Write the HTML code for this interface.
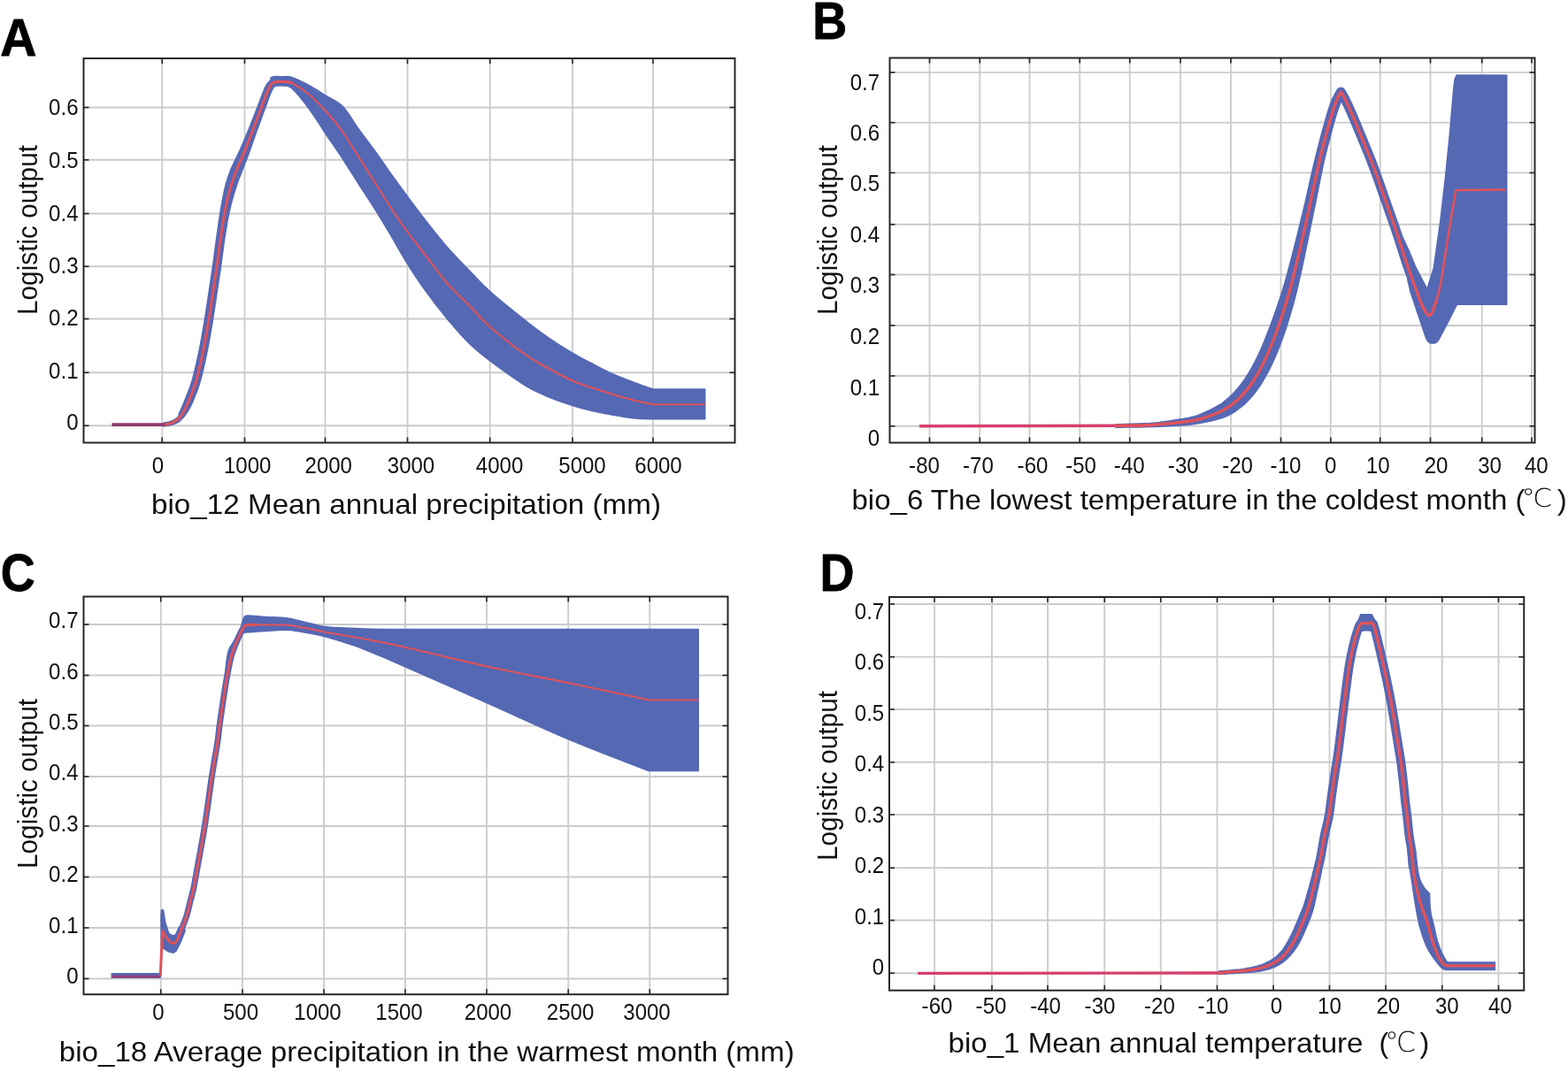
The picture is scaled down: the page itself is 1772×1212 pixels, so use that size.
<!DOCTYPE html>
<html lang="en">
<head>
<meta charset="utf-8">
<title>Response curves</title>
<style>
html,body{margin:0;padding:0;background:#fff;}
body{width:1772px;height:1212px;overflow:hidden;}
svg{display:block;}
text{font-family:"Liberation Sans","Noto Sans CJK SC",sans-serif;fill:#111;}
.tk{font-size:26px;}
.ttl{font-size:32px;}
.let{font-weight:bold;fill:#000;stroke:#000;stroke-width:0.8px;stroke-linejoin:round;}
.deg{font-family:"Liberation Sans","DejaVu Sans","Noto Sans CJK SC",sans-serif;font-weight:200;}
.grid line{stroke:#cbcbcb;stroke-width:1.8;}
.ticks line{stroke:#262626;stroke-width:1.6;}
.frame{fill:none;stroke:#262626;stroke-width:2;}
.band{fill:#5568b4;stroke:#5568b4;stroke-linejoin:round;}
.mean{fill:none;stroke-linejoin:round;}
</style>
</head>
<body>
<svg width="1772" height="1212" viewBox="0 0 1772 1212">
<rect x="0" y="0" width="1772" height="1212" fill="#ffffff"/>
<g id="panel-A">
<g class="grid"><line x1="183.25" y1="66" x2="183.25" y2="500.5"/><line x1="276.5" y1="66" x2="276.5" y2="500.5"/><line x1="367.5" y1="66" x2="367.5" y2="500.5"/><line x1="460.5" y1="66" x2="460.5" y2="500.5"/><line x1="553.75" y1="66" x2="553.75" y2="500.5"/><line x1="647" y1="66" x2="647" y2="500.5"/><line x1="738" y1="66" x2="738" y2="500.5"/><line x1="94.5" y1="121.5" x2="830.5" y2="121.5"/><line x1="94.5" y1="180.75" x2="830.5" y2="180.75"/><line x1="94.5" y1="241.5" x2="830.5" y2="241.5"/><line x1="94.5" y1="301.25" x2="830.5" y2="301.25"/><line x1="94.5" y1="360.5" x2="830.5" y2="360.5"/><line x1="94.5" y1="421.25" x2="830.5" y2="421.25"/><line x1="94.5" y1="481.25" x2="830.5" y2="481.25"/></g>
<path class="band" stroke-width="1.5" d="M185,478.1C186,477.92 189.17,477.5 191,477C192.83,476.5 194.33,475.98 196,475.1C197.67,474.22 199.58,473.07 201,471.7C202.42,470.33 203.17,469.35 204.5,466.9C205.83,464.45 207.5,460.4 209,457C210.5,453.6 212.75,448.25 213.5,446.5L213.5,446.5L213.5,460.5L213.5,460.5C212.75,461.92 210.5,466.63 209,469C207.5,471.37 205.83,473.25 204.5,474.7C203.17,476.15 202.42,476.87 201,477.7C199.58,478.53 197.67,479.13 196,479.7C194.33,480.27 192.83,480.73 191,481.1C189.17,481.47 186,481.77 185,481.9Z"/>
<path class="band" stroke-width="1.5" d="M306,88C306.67,87.75 307.67,86.72 310,86.5C312.33,86.28 316.67,86.53 320,86.7C323.33,86.87 325,85.78 330,87.5C335,89.22 343.75,93.63 350,97C356.25,100.37 361.25,103.78 367.5,107.7C373.75,111.62 381.25,114.2 387.5,120.5C393.75,126.8 398.75,136.83 405,145.5C411.25,154.17 418.75,163.83 425,172.5C431.25,181.17 436.67,189.33 442.5,197.5C448.33,205.67 453.75,213.08 460,221.5C466.25,229.92 472.5,238.42 480,248C487.5,257.58 496.67,269.42 505,279C513.33,288.58 521.88,297.08 530,305.5C538.12,313.92 543.25,320.12 553.75,329.5C564.25,338.88 582.29,353.25 593,361.75C603.71,370.25 609,374.25 618,380.5C627,386.75 638.67,394.25 647,399.25C655.33,404.25 660.33,406.54 668,410.5C675.67,414.46 684.67,419.25 693,423C701.33,426.75 710.5,430.17 718,433C725.5,435.83 734.67,438.83 738,440L738,440L796.75,440L796.75,440L796.75,473.75L796.75,473.75L738,473.75L738,473.75C734.67,473.62 725.5,473.75 718,473C710.5,472.25 701.33,470.71 693,469.25C684.67,467.79 675.67,466.04 668,464.25C660.33,462.46 655.33,461.21 647,458.5C638.67,455.79 627,451.83 618,448C609,444.17 603.71,442.17 593,435.5C582.29,428.83 564.25,415.92 553.75,408C543.25,400.08 538.12,396 530,388C521.88,380 513.33,370.08 505,360C496.67,349.92 487.5,337.92 480,327.5C472.5,317.08 466.25,307.5 460,297.5C453.75,287.5 448.33,277.33 442.5,267.5C436.67,257.67 431.25,248.5 425,238.5C418.75,228.5 411.25,217.25 405,207.5C398.75,197.75 393.75,189.5 387.5,180C381.25,170.5 373.75,159.83 367.5,150.5C361.25,141.17 356.25,132.42 350,124C343.75,115.58 335,104.5 330,100C325,95.5 323.33,97.5 320,97C316.67,96.5 312.33,97 310,97C307.67,97 306.67,97 306,97Z"/>
<path class="band" stroke-width="1.5" d="M201.9,469.01L202.25,468.06L202.78,466.81L203.43,465.35L204.14,463.78L204.83,462.19L205.46,460.64L206.11,459.25L206.71,457.95L207.29,456.65L207.9,455.22L208.6,453.49L209.43,451.32L210.5,448.67L211.71,445.65L212.99,442.36L214.29,438.89L215.54,435.3L216.7,431.68L217.79,427.91L218.87,423.91L219.91,419.74L220.92,415.49L221.91,411.22L222.86,407.02L223.76,402.94L224.6,398.94L225.41,394.93L226.21,390.86L227.01,386.63L227.82,382.2L228.66,377.46L229.53,372.43L230.39,367.27L231.23,362.09L232.05,357.06L232.81,352.3L233.5,347.86L234.14,343.63L234.75,339.53L235.34,335.49L235.94,331.45L236.55,327.33L237.18,323.19L237.8,319.1L238.43,315.01L239.05,310.89L239.67,306.69L240.29,302.37L240.92,297.87L241.54,293.19L242.16,288.42L242.79,283.63L243.42,278.92L244.04,274.38L244.64,269.96L245.23,265.6L245.83,261.32L246.42,257.15L247.02,253.11L247.61,249.23L248.15,245.57L248.66,242.11L249.18,238.78L249.72,235.51L250.29,232.24L250.92,228.89L251.55,225.46L252.21,221.99L252.91,218.5L253.65,215.03L254.43,211.62L255.25,208.29L256.19,205.14L257.14,202.13L258.13,199.19L259.17,196.28L260.26,193.31L261.44,190.2L262.89,187.02L264.41,183.83L265.98,180.62L267.57,177.35L269.18,173.98L270.8,170.46L272.48,166.69L274.21,162.69L275.97,158.53L277.76,154.3L279.54,150.06L281.3,145.89L282.95,141.72L284.59,137.52L286.24,133.3L287.88,129.12L289.49,125.01L291.07,121.01L292.61,116.97L294.15,112.8L295.69,108.67L297.2,104.75L298.67,101.19L300.08,98.17L301.41,95.78L302.68,93.88L304.02,92.33L305.42,91.12L306.77,90.23L308.28,89.39L310.22,88.63L312.3,88.22L314.2,88.07L315.83,88.04L317.04,88.04L317.82,88L318.18,96L317.18,96.04L315.9,96.04L314.59,96.06L313.37,96.15L312.43,96.32L311.72,96.61L311,97.05L310.34,97.51L309.83,97.98L309.22,98.72L308.43,99.95L307.42,101.83L306.22,104.46L304.89,107.77L303.47,111.58L301.98,115.68L300.45,119.88L298.93,123.99L297.43,128.03L295.92,132.17L294.38,136.38L292.82,140.63L291.26,144.89L289.7,149.11L288.23,153.39L286.72,157.73L285.21,162.09L283.71,166.39L282.24,170.56L280.8,174.54L279.37,178.32L277.95,181.91L276.58,185.32L275.28,188.58L274.07,191.72L272.96,194.8L271.77,197.75L270.66,200.57L269.62,203.31L268.63,206.02L267.68,208.8L266.75,211.71L265.74,214.76L264.75,217.93L263.78,221.19L262.85,224.49L261.95,227.81L261.08,231.11L260.31,234.31L259.6,237.45L258.91,240.59L258.25,243.81L257.58,247.18L256.89,250.77L256.23,254.58L255.58,258.55L254.92,262.68L254.27,266.92L253.61,271.24L252.96,275.62L252.33,280.13L251.71,284.81L251.09,289.58L250.46,294.37L249.83,299.08L249.21,303.63L248.58,307.99L247.95,312.22L247.32,316.36L246.7,320.46L246.07,324.54L245.45,328.67L244.84,332.77L244.25,336.8L243.65,340.85L243.04,344.97L242.39,349.23L241.69,353.7L240.93,358.48L240.12,363.54L239.27,368.73L238.4,373.94L237.53,379.01L236.68,383.8L235.86,388.28L235.05,392.55L234.24,396.69L233.42,400.76L232.55,404.84L231.64,408.98L230.68,413.23L229.69,417.55L228.65,421.88L227.58,426.17L226.46,430.33L225.3,434.32L224.03,438.18L222.68,441.96L221.29,445.57L219.94,448.95L218.68,452L217.57,454.68L216.56,456.92L215.65,458.78L214.83,460.35L214.07,461.72L213.32,463L212.54,464.36L211.57,465.84L210.53,467.37L209.51,468.83L208.55,470.15L207.73,471.23L207.1,471.99Z"/>
<path class="mean" stroke="#8c3a6c" stroke-width="3.8" stroke-linecap="butt" d="M126.5,480.1L188,480.1"/>
<path class="mean" stroke="#e0525a" stroke-width="2.1" stroke-linecap="butt" d="M310,93C312.17,92.92 319.67,92.38 323,92.5C326.33,92.62 325.5,91.25 330,93.75C334.5,96.25 343.75,102.29 350,107.5C356.25,112.71 361.25,118 367.5,125C373.75,132 381.25,140.83 387.5,149.5C393.75,158.17 398.75,167.17 405,177C411.25,186.83 418.75,198.67 425,208.5C431.25,218.33 436.67,227.17 442.5,236C448.33,244.83 453.75,252.92 460,261.5C466.25,270.08 472.5,277.75 480,287.5C487.5,297.25 496.67,310.42 505,320C513.33,329.58 521.88,336.75 530,345C538.12,353.25 543.25,360.25 553.75,369.5C564.25,378.75 582.29,392.83 593,400.5C603.71,408.17 609,410.5 618,415.5C627,420.5 638.67,426.75 647,430.5C655.33,434.25 660.33,435.42 668,438C675.67,440.58 684.67,443.5 693,446C701.33,448.5 710.5,451.12 718,453C725.5,454.88 734.67,456.54 738,457.25L738,457.25L796.75,457.25"/>
<path class="mean" stroke="#e0525a" stroke-width="3" stroke-linecap="butt" d="M186,480.1C186.83,479.92 189.33,479.47 191,479C192.67,478.53 193.75,478.72 196,477.3C198.25,475.88 201.58,474.55 204.5,470.5C207.42,466.45 210.75,459.25 213.5,453C216.25,446.75 218.71,440.5 221,433C223.29,425.5 225.38,416.33 227.25,408C229.12,399.67 230.58,392.17 232.25,383C233.92,373.83 235.79,362.17 237.25,353C238.71,343.83 239.75,336.33 241,328C242.25,319.67 243.5,311.83 244.75,303C246,294.17 247.25,283.83 248.5,275C249.75,266.17 251,257.5 252.25,250C253.5,242.5 254.54,236.67 256,230C257.46,223.33 259.13,216.25 261,210C262.87,203.75 264.73,198.75 267.2,192.5C269.67,186.25 272.75,180 275.8,172.5C278.85,165 282.3,155.83 285.5,147.5C288.7,139.17 291.96,130.42 295,122.5C298.04,114.58 301.25,104.92 303.75,100C306.25,95.08 306.79,94.25 310,93C313.21,91.75 319.67,92.38 323,92.5C326.33,92.62 328.83,93.54 330,93.75"/>
<g class="ticks"><line x1="183.25" y1="66" x2="183.25" y2="72"/><line x1="183.25" y1="500.5" x2="183.25" y2="494.5"/><line x1="276.5" y1="66" x2="276.5" y2="72"/><line x1="276.5" y1="500.5" x2="276.5" y2="494.5"/><line x1="367.5" y1="66" x2="367.5" y2="72"/><line x1="367.5" y1="500.5" x2="367.5" y2="494.5"/><line x1="460.5" y1="66" x2="460.5" y2="72"/><line x1="460.5" y1="500.5" x2="460.5" y2="494.5"/><line x1="553.75" y1="66" x2="553.75" y2="72"/><line x1="553.75" y1="500.5" x2="553.75" y2="494.5"/><line x1="647" y1="66" x2="647" y2="72"/><line x1="647" y1="500.5" x2="647" y2="494.5"/><line x1="738" y1="66" x2="738" y2="72"/><line x1="738" y1="500.5" x2="738" y2="494.5"/><line x1="94.5" y1="121.5" x2="100.5" y2="121.5"/><line x1="830.5" y1="121.5" x2="824.5" y2="121.5"/><line x1="94.5" y1="180.75" x2="100.5" y2="180.75"/><line x1="830.5" y1="180.75" x2="824.5" y2="180.75"/><line x1="94.5" y1="241.5" x2="100.5" y2="241.5"/><line x1="830.5" y1="241.5" x2="824.5" y2="241.5"/><line x1="94.5" y1="301.25" x2="100.5" y2="301.25"/><line x1="830.5" y1="301.25" x2="824.5" y2="301.25"/><line x1="94.5" y1="360.5" x2="100.5" y2="360.5"/><line x1="830.5" y1="360.5" x2="824.5" y2="360.5"/><line x1="94.5" y1="421.25" x2="100.5" y2="421.25"/><line x1="830.5" y1="421.25" x2="824.5" y2="421.25"/><line x1="94.5" y1="481.25" x2="100.5" y2="481.25"/><line x1="830.5" y1="481.25" x2="824.5" y2="481.25"/></g>
<rect class="frame" x="94.5" y="66" width="736" height="434.5"/>
<text class="tk" transform="translate(178.5,534.5) scale(0.925,1)" text-anchor="middle">0</text><text class="tk" transform="translate(279.7,534.5) scale(0.925,1)" text-anchor="middle">1000</text><text class="tk" transform="translate(371.25,534.5) scale(0.925,1)" text-anchor="middle">2000</text><text class="tk" transform="translate(464.5,534.5) scale(0.925,1)" text-anchor="middle">3000</text><text class="tk" transform="translate(564.6,534.5) scale(0.925,1)" text-anchor="middle">4000</text><text class="tk" transform="translate(658,534.5) scale(0.925,1)" text-anchor="middle">5000</text><text class="tk" transform="translate(744,534.5) scale(0.925,1)" text-anchor="middle">6000</text>
<text class="tk" transform="translate(88.5,130) scale(0.925,1)" text-anchor="end">0.6</text><text class="tk" transform="translate(88.5,190) scale(0.925,1)" text-anchor="end">0.5</text><text class="tk" transform="translate(88.5,250) scale(0.925,1)" text-anchor="end">0.4</text><text class="tk" transform="translate(88.5,309) scale(0.925,1)" text-anchor="end">0.3</text><text class="tk" transform="translate(88.5,368) scale(0.925,1)" text-anchor="end">0.2</text><text class="tk" transform="translate(88.5,427.5) scale(0.925,1)" text-anchor="end">0.1</text><text class="tk" transform="translate(88.5,486) scale(0.925,1)" text-anchor="end">0</text>
<text class="ttl" y="580.5" font-size="32.5"><tspan x="171" textLength="576" lengthAdjust="spacingAndGlyphs">bio_12 Mean annual precipitation (mm)</tspan></text>
<text class="ttl" font-size="28" transform="translate(41.5,356) rotate(-90)" textLength="192" lengthAdjust="spacingAndGlyphs">Logistic output</text>
<text class="let" transform="translate(0.2,62.8) scale(0.95,1)" font-size="60">A</text>
</g>
<g id="panel-B">
<g class="grid"><line x1="1050.5" y1="65.5" x2="1050.5" y2="500.5"/><line x1="1107.25" y1="65.5" x2="1107.25" y2="500.5"/><line x1="1163.5" y1="65.5" x2="1163.5" y2="500.5"/><line x1="1220.25" y1="65.5" x2="1220.25" y2="500.5"/><line x1="1276.75" y1="65.5" x2="1276.75" y2="500.5"/><line x1="1334" y1="65.5" x2="1334" y2="500.5"/><line x1="1391" y1="65.5" x2="1391" y2="500.5"/><line x1="1447.5" y1="65.5" x2="1447.5" y2="500.5"/><line x1="1503.75" y1="65.5" x2="1503.75" y2="500.5"/><line x1="1559.75" y1="65.5" x2="1559.75" y2="500.5"/><line x1="1616.5" y1="65.5" x2="1616.5" y2="500.5"/><line x1="1674.75" y1="65.5" x2="1674.75" y2="500.5"/><line x1="1731" y1="65.5" x2="1731" y2="500.5"/><line x1="1005.5" y1="81.8" x2="1734.5" y2="81.8"/><line x1="1005.5" y1="138.6" x2="1734.5" y2="138.6"/><line x1="1005.5" y1="195.4" x2="1734.5" y2="195.4"/><line x1="1005.5" y1="253.75" x2="1734.5" y2="253.75"/><line x1="1005.5" y1="310.5" x2="1734.5" y2="310.5"/><line x1="1005.5" y1="368" x2="1734.5" y2="368"/><line x1="1005.5" y1="425" x2="1734.5" y2="425"/><line x1="1005.5" y1="481.75" x2="1734.5" y2="481.75"/></g>
<path class="band" stroke-width="1.5" d="M1260.96,479.8L1265.32,479.66L1271.45,479.5L1278.65,479.31L1286.25,479.08L1293.56,478.82L1299.9,478.5L1305.32,477.99L1310.37,477.43L1315.14,476.83L1319.72,476.2L1324.19,475.52L1328.64,474.82L1333.02,474.11L1337.2,473.42L1341.23,472.7L1345.15,471.9L1349.02,470.98L1352.91,469.88L1356.91,468.3L1361.1,466.5L1365.29,464.55L1369.32,462.56L1372.98,460.61L1376.08,458.81L1378.57,457.49L1380.42,456.35L1381.9,455.29L1383.25,454.19L1384.73,452.91L1386.48,451.39L1388.37,449.79L1390.2,448.16L1392,446.46L1393.79,444.66L1395.57,442.75L1397.36,440.67L1399.25,438.49L1401.16,436.18L1403.06,433.75L1404.96,431.18L1406.86,428.44L1408.78,425.5L1410.75,422.37L1412.74,419.08L1414.72,415.62L1416.71,411.98L1418.7,408.12L1420.7,404.04L1422.74,399.73L1424.79,395.19L1426.85,390.44L1428.92,385.47L1430.99,380.28L1433.06,374.88L1435.26,369.21L1437.5,363.21L1439.75,357L1441.96,350.68L1444.11,344.36L1446.15,338.14L1448.04,332.33L1449.76,326.92L1451.4,321.52L1453.09,315.71L1454.92,309.1L1457,301.31L1459.46,292.01L1462.16,281.43L1465.01,270.06L1467.89,258.4L1470.7,246.96L1473.34,236.24L1475.67,226.14L1477.91,216.22L1480.07,206.5L1482.21,197L1484.36,187.77L1486.54,178.82L1488.71,169.97L1490.96,161.16L1493.21,152.64L1495.38,144.64L1497.4,137.39L1499.2,131.1L1500.79,125.79L1502.27,121.3L1503.58,117.58L1504.71,114.55L1505.62,112.17L1506.3,110.29L1515.7,113.71L1514.99,115.67L1514.07,118.08L1512.98,120.98L1511.73,124.51L1510.34,128.78L1508.8,133.9L1507.07,140.09L1505.1,147.29L1502.97,155.23L1500.78,163.69L1498.58,172.42L1496.46,181.18L1494.54,190.06L1492.64,199.25L1490.74,208.75L1488.8,218.52L1486.78,228.54L1484.66,238.76L1482.47,249.6L1480.11,261.16L1477.68,272.94L1475.28,284.46L1473.02,295.21L1471,304.69L1469.22,312.64L1467.69,319.44L1466.28,325.48L1464.91,331.15L1463.47,336.82L1461.85,342.86L1460.02,349.32L1458.08,355.88L1456.06,362.44L1454.02,368.9L1451.96,375.16L1449.94,381.12L1447.85,386.76L1445.75,392.2L1443.65,397.44L1441.54,402.48L1439.43,407.31L1437.3,411.96L1435.14,416.39L1432.96,420.6L1430.78,424.6L1428.6,428.4L1426.41,432.03L1424.22,435.5L1421.97,438.82L1419.71,441.95L1417.44,444.91L1415.17,447.69L1412.91,450.31L1410.64,452.83L1408.27,455.17L1405.88,457.36L1403.5,459.39L1401.13,461.26L1398.8,463.01L1396.52,464.61L1394.39,466L1392.34,467.27L1390.17,468.52L1387.76,469.74L1385.05,470.95L1381.92,472.19L1378.13,473.27L1373.87,474.46L1369.27,475.66L1364.5,476.82L1359.72,477.83L1355.09,478.62L1350.73,479.38L1346.47,479.93L1342.27,480.33L1338.06,480.64L1333.78,480.9L1329.36,481.18L1324.84,481.49L1320.28,481.77L1315.61,482.01L1310.74,482.22L1305.6,482.38L1300.1,482.5L1293.7,482.71L1286.35,482.88L1278.73,483.01L1271.52,483.1L1265.39,483.16L1261.04,483.2Z"/>
<path class="band" stroke-width="1.5" d="M1612.75,327L1620.25,303L1627.75,250L1633.5,200L1638.5,150L1642.75,100L1644,90L1646,85L1702.75,85L1702.75,344.25L1646.5,344.25L1636,365L1626.5,383L1624,386.5L1621,388L1616.5,388L1613.5,386L1611.5,382L1600,348L1594,330L1591,317L1592.5,308L1596,302L1600.25,303Z"/>
<path class="band" stroke-width="1.5" d="M1585,268L1592,283L1600.25,303L1608,318L1612.75,327L1606.5,344L1599,324L1590,299Z"/>
<path fill="none" stroke="#5568b4" stroke-width="10.6" stroke-linejoin="round" stroke-linecap="round" d="M1491.5,180C1493.58,172.08 1500.75,143.83 1504,132.5C1507.25,121.17 1509.12,116.79 1511,112C1512.88,107.21 1514.54,105.12 1515.25,103.75L1515.25,103.75C1515.96,104.96 1517.54,107.12 1519.5,111C1521.46,114.88 1524.52,121.4 1527,127C1529.48,132.6 1531.72,138.15 1534.4,144.6C1537.08,151.05 1540.62,159.63 1543.1,165.7C1545.58,171.77 1547.08,175.28 1549.3,181C1551.52,186.72 1553.62,192.25 1556.4,200C1559.18,207.75 1562.9,218.67 1566,227.5C1569.1,236.33 1572.25,245 1575,253C1577.75,261 1580,267.83 1582.5,275.5C1585,283.17 1587.25,290.92 1590,299C1592.75,307.08 1596.25,316.5 1599,324C1601.75,331.5 1604.42,339.08 1606.5,344C1608.58,348.92 1610.04,351.38 1611.5,353.5C1612.96,355.62 1614.62,356.21 1615.25,356.75"/>
<path class="mean" stroke="#d6406c" stroke-width="3.4" stroke-linecap="butt" d="M1039,481.75L1290,481.2"/>
<path class="mean" stroke="#e0525a" stroke-width="2.6" stroke-linecap="butt" d="M1615.25,356.75C1615.88,355.96 1617.12,356.79 1619,352C1620.88,347.21 1624.5,336.17 1626.5,328C1628.5,319.83 1629.08,314.67 1631,303C1632.92,291.33 1635.62,272.67 1638,258C1640.38,243.33 1644.04,222.17 1645.25,215L1645.25,215L1701.5,214.5"/>
<path class="mean" stroke="#e0525a" stroke-width="3.4" stroke-linecap="butt" d="M1261,481.5C1267.5,481.33 1288.67,481.08 1300,480.5C1311.33,479.92 1320,479.04 1329,478C1338,476.96 1345.67,476.33 1354,474.25C1362.33,472.17 1372.75,468.21 1379,465.5C1385.25,462.79 1387.33,461.12 1391.5,458C1395.67,454.88 1399.83,451.33 1404,446.75C1408.17,442.17 1412.33,436.96 1416.5,430.5C1420.67,424.04 1424.83,416.75 1429,408C1433.17,399.25 1437.33,389.25 1441.5,378C1445.67,366.75 1450.25,353 1454,340.5C1457.75,328 1459.83,320.17 1464,303C1468.17,285.83 1474.42,258 1479,237.5C1483.58,217 1487.33,197.5 1491.5,180C1495.67,162.5 1500.75,143.83 1504,132.5C1507.25,121.17 1509.12,116.79 1511,112C1512.88,107.21 1514.54,105.12 1515.25,103.75L1515.25,103.75C1515.96,104.96 1517.54,107.12 1519.5,111C1521.46,114.88 1524.52,121.4 1527,127C1529.48,132.6 1531.72,138.15 1534.4,144.6C1537.08,151.05 1540.62,159.63 1543.1,165.7C1545.58,171.77 1547.08,175.28 1549.3,181C1551.52,186.72 1553.62,192.25 1556.4,200C1559.18,207.75 1562.9,218.67 1566,227.5C1569.1,236.33 1572.25,245 1575,253C1577.75,261 1580,267.83 1582.5,275.5C1585,283.17 1587.25,290.92 1590,299C1592.75,307.08 1596.25,316.5 1599,324C1601.75,331.5 1604.42,339.08 1606.5,344C1608.58,348.92 1610.04,351.38 1611.5,353.5C1612.96,355.62 1614,357 1615.25,356.75C1616.5,356.5 1617.71,354.79 1619,352C1620.29,349.21 1622.33,342 1623,340"/>
<g class="ticks"><line x1="1050.5" y1="65.5" x2="1050.5" y2="71.5"/><line x1="1050.5" y1="500.5" x2="1050.5" y2="494.5"/><line x1="1107.25" y1="65.5" x2="1107.25" y2="71.5"/><line x1="1107.25" y1="500.5" x2="1107.25" y2="494.5"/><line x1="1163.5" y1="65.5" x2="1163.5" y2="71.5"/><line x1="1163.5" y1="500.5" x2="1163.5" y2="494.5"/><line x1="1220.25" y1="65.5" x2="1220.25" y2="71.5"/><line x1="1220.25" y1="500.5" x2="1220.25" y2="494.5"/><line x1="1276.75" y1="65.5" x2="1276.75" y2="71.5"/><line x1="1276.75" y1="500.5" x2="1276.75" y2="494.5"/><line x1="1334" y1="65.5" x2="1334" y2="71.5"/><line x1="1334" y1="500.5" x2="1334" y2="494.5"/><line x1="1391" y1="65.5" x2="1391" y2="71.5"/><line x1="1391" y1="500.5" x2="1391" y2="494.5"/><line x1="1447.5" y1="65.5" x2="1447.5" y2="71.5"/><line x1="1447.5" y1="500.5" x2="1447.5" y2="494.5"/><line x1="1503.75" y1="65.5" x2="1503.75" y2="71.5"/><line x1="1503.75" y1="500.5" x2="1503.75" y2="494.5"/><line x1="1559.75" y1="65.5" x2="1559.75" y2="71.5"/><line x1="1559.75" y1="500.5" x2="1559.75" y2="494.5"/><line x1="1616.5" y1="65.5" x2="1616.5" y2="71.5"/><line x1="1616.5" y1="500.5" x2="1616.5" y2="494.5"/><line x1="1674.75" y1="65.5" x2="1674.75" y2="71.5"/><line x1="1674.75" y1="500.5" x2="1674.75" y2="494.5"/><line x1="1731" y1="65.5" x2="1731" y2="71.5"/><line x1="1731" y1="500.5" x2="1731" y2="494.5"/><line x1="1005.5" y1="81.8" x2="1011.5" y2="81.8"/><line x1="1734.5" y1="81.8" x2="1728.5" y2="81.8"/><line x1="1005.5" y1="138.6" x2="1011.5" y2="138.6"/><line x1="1734.5" y1="138.6" x2="1728.5" y2="138.6"/><line x1="1005.5" y1="195.4" x2="1011.5" y2="195.4"/><line x1="1734.5" y1="195.4" x2="1728.5" y2="195.4"/><line x1="1005.5" y1="253.75" x2="1011.5" y2="253.75"/><line x1="1734.5" y1="253.75" x2="1728.5" y2="253.75"/><line x1="1005.5" y1="310.5" x2="1011.5" y2="310.5"/><line x1="1734.5" y1="310.5" x2="1728.5" y2="310.5"/><line x1="1005.5" y1="368" x2="1011.5" y2="368"/><line x1="1734.5" y1="368" x2="1728.5" y2="368"/><line x1="1005.5" y1="425" x2="1011.5" y2="425"/><line x1="1734.5" y1="425" x2="1728.5" y2="425"/><line x1="1005.5" y1="481.75" x2="1011.5" y2="481.75"/><line x1="1734.5" y1="481.75" x2="1728.5" y2="481.75"/></g>
<rect class="frame" x="1005.5" y="65.5" width="729" height="435"/>
<text class="tk" transform="translate(1044.5,535) scale(0.925,1)" text-anchor="middle">-80</text><text class="tk" transform="translate(1105.4,535) scale(0.925,1)" text-anchor="middle">-70</text><text class="tk" transform="translate(1167,535) scale(0.925,1)" text-anchor="middle">-60</text><text class="tk" transform="translate(1221.6,535) scale(0.925,1)" text-anchor="middle">-50</text><text class="tk" transform="translate(1276.25,535) scale(0.925,1)" text-anchor="middle">-40</text><text class="tk" transform="translate(1337.25,535) scale(0.925,1)" text-anchor="middle">-30</text><text class="tk" transform="translate(1398.6,535) scale(0.925,1)" text-anchor="middle">-20</text><text class="tk" transform="translate(1453,535) scale(0.925,1)" text-anchor="middle">-10</text><text class="tk" transform="translate(1503.6,535) scale(0.925,1)" text-anchor="middle">0</text><text class="tk" transform="translate(1557.2,535) scale(0.925,1)" text-anchor="middle">10</text><text class="tk" transform="translate(1623,535) scale(0.925,1)" text-anchor="middle">20</text><text class="tk" transform="translate(1683.5,535) scale(0.925,1)" text-anchor="middle">30</text><text class="tk" transform="translate(1736.25,535) scale(0.925,1)" text-anchor="middle">40</text>
<text class="tk" transform="translate(994.1,102) scale(0.925,1)" text-anchor="end">0.7</text><text class="tk" transform="translate(994.1,159.4) scale(0.925,1)" text-anchor="end">0.6</text><text class="tk" transform="translate(994.1,216.2) scale(0.925,1)" text-anchor="end">0.5</text><text class="tk" transform="translate(994.1,273.7) scale(0.925,1)" text-anchor="end">0.4</text><text class="tk" transform="translate(994.1,331) scale(0.925,1)" text-anchor="end">0.3</text><text class="tk" transform="translate(994.1,389) scale(0.925,1)" text-anchor="end">0.2</text><text class="tk" transform="translate(994.1,446.5) scale(0.925,1)" text-anchor="end">0.1</text><text class="tk" transform="translate(994.1,503.5) scale(0.925,1)" text-anchor="end">0</text>
<text class="ttl" y="575.5" font-size="32.5"><tspan x="962.5" textLength="761" lengthAdjust="spacingAndGlyphs">bio_6 The lowest temperature in the coldest month (</tspan><tspan class="deg" x="1719.5" y="572.6" font-size="29" textLength="35.2" lengthAdjust="spacingAndGlyphs">℃</tspan><tspan x="1760" y="575.75" font-size="32">)</tspan></text>
<text class="ttl" font-size="28" transform="translate(945.8,356) rotate(-90)" textLength="192" lengthAdjust="spacingAndGlyphs">Logistic output</text>
<text class="let" transform="translate(918.3,43.9) scale(0.9,1)" font-size="60">B</text>
</g>
<g id="panel-C">
<g class="grid"><line x1="181.75" y1="674.5" x2="181.75" y2="1124.25"/><line x1="274" y1="674.5" x2="274" y2="1124.25"/><line x1="366" y1="674.5" x2="366" y2="1124.25"/><line x1="458" y1="674.5" x2="458" y2="1124.25"/><line x1="550" y1="674.5" x2="550" y2="1124.25"/><line x1="642.25" y1="674.5" x2="642.25" y2="1124.25"/><line x1="734.25" y1="674.5" x2="734.25" y2="1124.25"/><line x1="94.5" y1="706" x2="822.5" y2="706"/><line x1="94.5" y1="763.5" x2="822.5" y2="763.5"/><line x1="94.5" y1="820.5" x2="822.5" y2="820.5"/><line x1="94.5" y1="878" x2="822.5" y2="878"/><line x1="94.5" y1="934" x2="822.5" y2="934"/><line x1="94.5" y1="991.5" x2="822.5" y2="991.5"/><line x1="94.5" y1="1049" x2="822.5" y2="1049"/><line x1="94.5" y1="1106.5" x2="822.5" y2="1106.5"/></g>
<path class="band" stroke-width="1.5" d="M272,712C272.5,709.96 273.67,702.42 275,699.75C276.33,697.08 275.83,696.38 280,696C284.17,695.62 292.5,697 300,697.5C307.5,698 316.67,697.79 325,699C333.33,700.21 342.92,703.17 350,704.75C357.08,706.33 360.83,707.62 367.5,708.5C374.17,709.38 382.5,709.58 390,710C397.5,710.42 403.67,710.75 412.5,711C421.33,711.25 437.92,711.42 443,711.5L443,711.5L789.25,711.5L789.25,711.5L789.25,871.5L789.25,871.5L733,871.5L733,871.5C718,865.58 673.42,848.79 643,836C612.58,823.21 583.83,809.54 550.5,794.75C517.17,779.96 463.92,756.42 443,747.25C422.08,738.08 432.17,742.67 425,739.75C417.83,736.83 409.58,733.08 400,729.75C390.42,726.42 375.83,722.04 367.5,719.75C359.17,717.46 357.08,717.25 350,716C342.92,714.75 333.33,712.67 325,712.25C316.67,711.83 307.5,713.08 300,713.5C292.5,713.92 284.67,714.33 280,714.75C275.33,715.17 273.33,715.79 272,716Z"/>
<path class="band" stroke-width="1.5" d="M182.4,1072L182,1050L182,1034L182.5,1029.5L183.6,1028.3L184.8,1030L185.4,1035L187,1043.7L190.8,1055.5L195,1058L198.4,1057L202.6,1047.9L209.3,1052L204.3,1064.7L199.2,1074.8L195.9,1077.3L190,1075.7L184.9,1072.3Z"/>
<path class="band" stroke-width="1.5" d="M253,790C253.42,783.67 254.58,761.17 255.5,752C256.42,742.83 257.33,739 258.5,735C259.67,731 260.58,731.17 262.5,728C264.42,724.83 268.75,718 270,716L270,716L262,745Z"/>
<path fill="none" stroke="#5568b4" stroke-width="6" stroke-linejoin="round" stroke-linecap="butt" d="M125.6,1103L181.8,1103"/>
<path fill="none" stroke="#5568b4" stroke-width="7" stroke-linejoin="round" stroke-linecap="round" d="M203,1059.5C203.63,1057.33 205.47,1050.53 206.8,1046.5C208.13,1042.47 209.6,1039.98 211,1035.3C212.4,1030.62 213.93,1023.45 215.2,1018.4C216.47,1013.35 217.57,1009.73 218.6,1005C219.63,1000.27 219.27,1001.87 221.4,990C223.53,978.13 228.4,952.48 231.4,933.8C234.4,915.12 237.02,893.53 239.4,877.9C241.78,862.27 244.25,849.58 245.7,840C247.15,830.42 246.97,828.73 248.1,820.4C249.23,812.07 251.05,799.52 252.5,790C253.95,780.48 255.22,771.68 256.8,763.3C258.38,754.92 259.9,746.75 262,739.7C264.1,732.65 267.12,726.18 269.4,721C271.68,715.82 273.83,711.05 275.7,708.6C277.57,706.15 279.78,706.68 280.6,706.3"/>
<path class="mean" stroke="#9a3c6c" stroke-width="2.6" stroke-linecap="butt" d="M126,1104L181.5,1104"/>
<path class="mean" stroke="#e0525a" stroke-width="2.1" stroke-linecap="butt" d="M280.6,706.3L325,706.5L325,706.5C329.17,707.25 341.67,709.42 350,711C358.33,712.58 359.5,713.08 375,716C390.5,718.92 413.75,722.25 443,728.5C472.25,734.75 517.17,746.21 550.5,753.5C583.83,760.79 612.38,765.92 643,772.25C673.62,778.58 719.04,788.29 734.25,791.5L734.25,791.5L789.25,791.5"/>
<path class="mean" stroke="#e0525a" stroke-width="3" stroke-linecap="butt" d="M181.3,1103L183.6,1052.5L183.6,1052.5C184.33,1053.75 186.43,1057.83 188,1060C189.57,1062.17 191.62,1064.42 193,1065.5C194.38,1066.58 195.17,1066.75 196.25,1066.5C197.33,1066.25 198.44,1065.57 199.5,1064C200.56,1062.43 201.38,1060.02 202.6,1057.1C203.82,1054.18 205.4,1050.13 206.8,1046.5C208.2,1042.87 209.6,1039.98 211,1035.3C212.4,1030.62 213.93,1023.45 215.2,1018.4C216.47,1013.35 217.57,1009.73 218.6,1005C219.63,1000.27 219.27,1001.87 221.4,990C223.53,978.13 228.4,952.48 231.4,933.8C234.4,915.12 237.02,893.53 239.4,877.9C241.78,862.27 244.25,849.58 245.7,840C247.15,830.42 246.97,828.73 248.1,820.4C249.23,812.07 251.05,799.52 252.5,790C253.95,780.48 255.22,771.68 256.8,763.3C258.38,754.92 259.9,746.75 262,739.7C264.1,732.65 267.12,726.18 269.4,721C271.68,715.82 273.83,711.05 275.7,708.6C277.57,706.15 279.78,706.68 280.6,706.3L280.6,706.3L290,706.4"/>
<g class="ticks"><line x1="181.75" y1="674.5" x2="181.75" y2="680.5"/><line x1="181.75" y1="1124.25" x2="181.75" y2="1118.25"/><line x1="274" y1="674.5" x2="274" y2="680.5"/><line x1="274" y1="1124.25" x2="274" y2="1118.25"/><line x1="366" y1="674.5" x2="366" y2="680.5"/><line x1="366" y1="1124.25" x2="366" y2="1118.25"/><line x1="458" y1="674.5" x2="458" y2="680.5"/><line x1="458" y1="1124.25" x2="458" y2="1118.25"/><line x1="550" y1="674.5" x2="550" y2="680.5"/><line x1="550" y1="1124.25" x2="550" y2="1118.25"/><line x1="642.25" y1="674.5" x2="642.25" y2="680.5"/><line x1="642.25" y1="1124.25" x2="642.25" y2="1118.25"/><line x1="734.25" y1="674.5" x2="734.25" y2="680.5"/><line x1="734.25" y1="1124.25" x2="734.25" y2="1118.25"/><line x1="94.5" y1="706" x2="100.5" y2="706"/><line x1="822.5" y1="706" x2="816.5" y2="706"/><line x1="94.5" y1="763.5" x2="100.5" y2="763.5"/><line x1="822.5" y1="763.5" x2="816.5" y2="763.5"/><line x1="94.5" y1="820.5" x2="100.5" y2="820.5"/><line x1="822.5" y1="820.5" x2="816.5" y2="820.5"/><line x1="94.5" y1="878" x2="100.5" y2="878"/><line x1="822.5" y1="878" x2="816.5" y2="878"/><line x1="94.5" y1="934" x2="100.5" y2="934"/><line x1="822.5" y1="934" x2="816.5" y2="934"/><line x1="94.5" y1="991.5" x2="100.5" y2="991.5"/><line x1="822.5" y1="991.5" x2="816.5" y2="991.5"/><line x1="94.5" y1="1049" x2="100.5" y2="1049"/><line x1="822.5" y1="1049" x2="816.5" y2="1049"/><line x1="94.5" y1="1106.5" x2="100.5" y2="1106.5"/><line x1="822.5" y1="1106.5" x2="816.5" y2="1106.5"/></g>
<rect class="frame" x="94.5" y="674.5" width="728" height="449.75"/>
<text class="tk" transform="translate(179,1152.8) scale(0.925,1)" text-anchor="middle">0</text><text class="tk" transform="translate(272,1152.8) scale(0.925,1)" text-anchor="middle">500</text><text class="tk" transform="translate(359,1152.8) scale(0.925,1)" text-anchor="middle">1000</text><text class="tk" transform="translate(451,1152.8) scale(0.925,1)" text-anchor="middle">1500</text><text class="tk" transform="translate(551.5,1152.8) scale(0.925,1)" text-anchor="middle">2000</text><text class="tk" transform="translate(644.6,1152.8) scale(0.925,1)" text-anchor="middle">2500</text><text class="tk" transform="translate(731,1152.8) scale(0.925,1)" text-anchor="middle">3000</text>
<text class="tk" transform="translate(88.5,709.75) scale(0.925,1)" text-anchor="end">0.7</text><text class="tk" transform="translate(88.5,767.75) scale(0.925,1)" text-anchor="end">0.6</text><text class="tk" transform="translate(88.5,824.75) scale(0.925,1)" text-anchor="end">0.5</text><text class="tk" transform="translate(88.5,882.25) scale(0.925,1)" text-anchor="end">0.4</text><text class="tk" transform="translate(88.5,939.5) scale(0.925,1)" text-anchor="end">0.3</text><text class="tk" transform="translate(88.5,997.25) scale(0.925,1)" text-anchor="end">0.2</text><text class="tk" transform="translate(88.5,1054.75) scale(0.925,1)" text-anchor="end">0.1</text><text class="tk" transform="translate(88.5,1111.5) scale(0.925,1)" text-anchor="end">0</text>
<text class="ttl" y="1200.3" font-size="32.5"><tspan x="66.7" textLength="831" lengthAdjust="spacingAndGlyphs">bio_18 Average precipitation in the warmest month (mm)</tspan></text>
<text class="ttl" font-size="28" transform="translate(41.5,982) rotate(-90)" textLength="192" lengthAdjust="spacingAndGlyphs">Logistic output</text>
<text class="let" transform="translate(0.7,667.7) scale(0.9,1)" font-size="60">C</text>
</g>
<g id="panel-D">
<g class="grid"><line x1="1056" y1="675" x2="1056" y2="1119.75"/><line x1="1121" y1="675" x2="1121" y2="1119.75"/><line x1="1184" y1="675" x2="1184" y2="1119.75"/><line x1="1248.25" y1="675" x2="1248.25" y2="1119.75"/><line x1="1311.75" y1="675" x2="1311.75" y2="1119.75"/><line x1="1375.5" y1="675" x2="1375.5" y2="1119.75"/><line x1="1439" y1="675" x2="1439" y2="1119.75"/><line x1="1502.5" y1="675" x2="1502.5" y2="1119.75"/><line x1="1566" y1="675" x2="1566" y2="1119.75"/><line x1="1629.75" y1="675" x2="1629.75" y2="1119.75"/><line x1="1693.5" y1="675" x2="1693.5" y2="1119.75"/><line x1="1005" y1="683" x2="1722.25" y2="683"/><line x1="1005" y1="742.7" x2="1722.25" y2="742.7"/><line x1="1005" y1="802" x2="1722.25" y2="802"/><line x1="1005" y1="861.75" x2="1722.25" y2="861.75"/><line x1="1005" y1="921" x2="1722.25" y2="921"/><line x1="1005" y1="981.25" x2="1722.25" y2="981.25"/><line x1="1005" y1="1040.5" x2="1722.25" y2="1040.5"/><line x1="1005" y1="1100.25" x2="1722.25" y2="1100.25"/></g>
<path class="band" stroke-width="1.5" d="M1377.18,1098.1L1379.95,1097.85L1383.83,1097.53L1388.4,1097.16L1393.23,1096.75L1397.87,1096.33L1401.91,1095.91L1405.4,1095.38L1408.71,1094.84L1411.84,1094.28L1414.79,1093.71L1417.55,1093.1L1420.11,1092.46L1422.45,1091.78L1424.55,1091.08L1426.47,1090.36L1428.28,1089.6L1430.02,1088.81L1431.74,1087.97L1433.43,1087.19L1434.99,1086.4L1436.46,1085.59L1437.86,1084.74L1439.21,1083.84L1440.55,1082.87L1441.88,1081.83L1443.17,1080.73L1444.43,1079.58L1445.65,1078.36L1446.84,1077.09L1447.99,1075.76L1449.1,1074.36L1450.2,1072.86L1451.28,1071.27L1452.35,1069.6L1453.4,1067.89L1454.42,1066.17L1455.44,1064.48L1456.42,1062.74L1457.39,1060.94L1458.33,1059.11L1459.24,1057.26L1460.12,1055.45L1460.96,1053.7L1461.76,1051.94L1462.54,1050.16L1463.31,1048.35L1464.09,1046.5L1464.88,1044.64L1465.68,1042.79L1466.46,1040.98L1467.22,1039.18L1467.97,1037.4L1468.7,1035.62L1469.42,1033.81L1470.19,1032.01L1470.94,1030.26L1471.66,1028.54L1472.36,1026.78L1473.05,1024.95L1473.73,1023L1474.43,1020.86L1475.13,1018.54L1475.83,1016.09L1476.53,1013.55L1477.24,1010.99L1477.95,1008.46L1478.65,1005.97L1479.35,1003.48L1480.04,1000.99L1480.72,998.52L1481.39,996.09L1482.03,993.71L1482.62,991.39L1483.2,989.09L1483.76,986.82L1484.31,984.56L1484.86,982.33L1485.41,980.11L1485.92,978.04L1486.39,976.2L1486.85,974.43L1487.31,972.56L1487.81,970.37L1488.38,967.68L1488.99,964.35L1489.67,960.47L1490.38,956.24L1491.13,951.85L1491.9,947.49L1492.68,943.35L1493.51,939.48L1494.38,935.8L1495.26,932.23L1496.11,928.67L1496.92,925.02L1497.67,921.16L1498.34,916.96L1498.97,912.48L1499.56,907.82L1500.15,903.1L1500.73,898.42L1501.34,893.91L1501.98,889.45L1502.65,884.93L1503.31,880.48L1503.95,876.25L1504.54,872.4L1505.05,869.04L1505.46,866.44L1505.78,864.55L1506.05,863.06L1506.3,861.62L1506.58,859.86L1506.94,857.39L1507.38,854.33L1507.84,851L1508.34,847.33L1508.88,843.24L1509.48,838.65L1510.13,833.47L1510.87,827.45L1511.69,820.59L1512.57,813.22L1513.47,805.67L1514.37,798.24L1515.23,791.26L1516.07,784.62L1516.91,778L1517.75,771.5L1518.58,765.24L1519.42,759.31L1520.25,753.83L1521.08,748.82L1521.91,744.24L1522.73,740.01L1523.56,736.05L1524.38,732.31L1525.22,728.71L1526.08,725.2L1526.96,721.85L1527.85,718.71L1528.72,715.82L1529.56,713.2L1530.33,710.9L1531.02,708.95L1531.65,707.26L1532.3,705.72L1533.06,704.27L1534.02,702.88L1535.27,701.56L1536.89,700.42L1538.67,699.71L1540.28,699.38L1541.68,699.26L1542.84,699.23L1543.86,699.2L1545.01,699.16L1546.37,699.15L1547.83,699.2L1549.36,699.37L1550.98,699.73L1552.53,700.36L1553.83,701.17L1554.99,702.28L1555.84,703.63L1556.31,704.81L1556.67,705.93L1557.11,707.35L1557.68,709.23L1558.28,711.47L1558.92,713.97L1559.58,716.67L1560.27,719.53L1560.98,722.5L1561.74,725.65L1562.54,729.05L1563.36,732.61L1564.21,736.28L1565.06,739.98L1565.89,743.64L1566.72,747.27L1567.55,750.93L1568.39,754.63L1569.23,758.38L1570.07,762.2L1570.91,766.11L1571.75,770.12L1572.61,774.24L1573.47,778.43L1574.32,782.65L1575.14,786.86L1575.93,791.02L1576.66,795.05L1577.34,798.97L1578,802.87L1578.65,806.83L1579.32,810.94L1580.04,815.3L1580.84,820.13L1581.71,825.41L1582.59,830.85L1583.46,836.16L1584.26,841.08L1584.94,845.31L1585.5,848.67L1585.95,851.37L1586.34,853.69L1586.7,855.9L1587.06,858.25L1587.46,861.01L1587.88,864.12L1588.3,867.37L1588.72,870.75L1589.14,874.26L1589.56,877.89L1589.97,881.64L1590.4,885.67L1590.83,890.02L1591.27,894.49L1591.69,898.86L1592.1,902.94L1592.47,906.53L1592.81,909.46L1593.12,911.87L1593.42,914.03L1593.71,916.18L1594.03,918.57L1594.37,921.41L1594.75,924.81L1595.14,928.59L1595.54,932.56L1595.95,936.52L1596.36,940.29L1596.76,943.65L1597.17,946.5L1597.59,949.02L1598.01,951.42L1598.45,953.87L1598.87,956.51L1599.27,959.49L1599.65,963.02L1600.03,967.03L1600.39,971.17L1600.72,975.08L1600.99,978.39L1601.18,980.74L1592.62,981.46L1592.41,979.1L1592.14,975.79L1591.82,971.9L1591.47,967.81L1591.1,963.89L1590.73,960.51L1590.36,957.76L1589.97,955.3L1589.55,952.93L1589.11,950.48L1588.67,947.8L1588.24,944.75L1587.82,941.26L1587.4,937.43L1586.98,933.43L1586.58,929.46L1586.19,925.72L1585.83,922.39L1585.5,919.64L1585.19,917.33L1584.9,915.2L1584.6,912.99L1584.28,910.49L1583.93,907.47L1583.54,903.81L1583.13,899.7L1582.71,895.31L1582.28,890.87L1581.85,886.55L1581.43,882.56L1581.01,878.86L1580.6,875.26L1580.18,871.79L1579.77,868.45L1579.35,865.25L1578.94,862.19L1578.56,859.51L1578.21,857.24L1577.86,855.1L1577.47,852.8L1577.01,850.08L1576.46,846.69L1575.77,842.46L1574.97,837.54L1574.11,832.23L1573.22,826.8L1572.36,821.53L1571.56,816.7L1570.84,812.34L1570.16,808.22L1569.51,804.28L1568.87,800.42L1568.19,796.55L1567.47,792.58L1566.7,788.49L1565.88,784.33L1565.04,780.14L1564.19,775.98L1563.34,771.88L1562.49,767.89L1561.66,764.03L1560.83,760.24L1560,756.51L1559.17,752.83L1558.34,749.19L1557.51,745.56L1556.67,741.89L1555.83,738.2L1554.99,734.55L1554.16,731.01L1553.37,727.64L1552.62,724.5L1551.91,721.54L1551.22,718.7L1550.57,716.05L1549.96,713.65L1549.4,711.58L1548.89,709.85L1548.47,708.5L1548.19,707.63L1548.11,707.4L1548.33,707.73L1548.63,708.02L1548.67,708.04L1548.49,707.96L1548.01,707.87L1547.21,707.78L1546.24,707.75L1545.2,707.76L1544.14,707.8L1543.06,707.83L1542.12,707.85L1541.45,707.9L1541.09,707.96L1541,707.98L1540.93,708.04L1540.72,708.27L1540.44,708.68L1540.09,709.36L1539.65,710.41L1539.11,711.86L1538.47,713.7L1537.73,715.88L1536.93,718.36L1536.1,721.12L1535.26,724.12L1534.41,727.32L1533.58,730.69L1532.77,734.21L1531.97,737.86L1531.17,741.7L1530.36,745.82L1529.56,750.29L1528.75,755.17L1527.93,760.56L1527.1,766.41L1526.28,772.62L1525.44,779.09L1524.61,785.69L1523.77,792.34L1522.9,799.28L1522.01,806.69L1521.11,814.24L1520.23,821.61L1519.41,828.48L1518.67,834.53L1518.01,839.74L1517.41,844.36L1516.86,848.48L1516.36,852.17L1515.89,855.52L1515.46,858.61L1515.08,861.16L1514.78,863.03L1514.52,864.54L1514.26,866.02L1513.95,867.83L1513.55,870.36L1513.04,873.69L1512.45,877.55L1511.81,881.76L1511.15,886.19L1510.49,890.68L1509.86,895.09L1509.26,899.53L1508.68,904.16L1508.1,908.89L1507.49,913.62L1506.84,918.24L1506.13,922.64L1505.35,926.76L1504.49,930.6L1503.62,934.26L1502.74,937.81L1501.9,941.37L1501.12,945.05L1500.36,949.04L1499.6,953.32L1498.86,957.67L1498.14,961.92L1497.46,965.86L1496.82,969.32L1496.26,972.16L1495.76,974.49L1495.3,976.49L1494.87,978.3L1494.44,980.1L1493.99,982.09L1493.54,984.28L1493.1,986.52L1492.64,988.8L1492.17,991.12L1491.68,993.48L1491.17,995.89L1490.65,998.34L1490.11,1000.84L1489.55,1003.36L1488.98,1005.9L1488.41,1008.43L1487.85,1010.94L1487.31,1013.46L1486.77,1016.04L1486.22,1018.65L1485.65,1021.25L1485.07,1023.78L1484.47,1026.2L1483.83,1028.46L1483.19,1030.56L1482.54,1032.55L1481.89,1034.45L1481.25,1036.31L1480.58,1038.19L1479.83,1040.09L1479.06,1041.99L1478.28,1043.85L1477.49,1045.7L1476.7,1047.54L1475.92,1049.36L1475.14,1051.18L1474.36,1053.03L1473.56,1054.91L1472.72,1056.84L1471.83,1058.79L1470.88,1060.75L1469.87,1062.68L1468.83,1064.63L1467.74,1066.6L1466.6,1068.57L1465.41,1070.53L1464.18,1072.43L1462.87,1074.24L1461.53,1076.03L1460.13,1077.81L1458.68,1079.55L1457.17,1081.23L1455.61,1082.84L1454.03,1084.33L1452.41,1085.73L1450.77,1087.05L1449.09,1088.29L1447.39,1089.44L1445.65,1090.53L1443.89,1091.53L1442.11,1092.45L1440.31,1093.28L1438.48,1094.04L1436.6,1094.75L1434.66,1095.43L1432.66,1096L1430.63,1096.55L1428.51,1097.05L1426.28,1097.52L1423.88,1097.95L1421.29,1098.34L1418.5,1098.69L1415.57,1098.98L1412.49,1099.24L1409.26,1099.47L1405.86,1099.69L1402.29,1099.89L1398.21,1100.22L1393.52,1100.54L1388.67,1100.85L1384.09,1101.13L1380.19,1101.35L1377.42,1101.5Z"/>
<path class="band" stroke-width="1.5" d="M1531.5,716L1534,704L1537.75,694.75L1550.25,694.75L1554,702L1556.5,713L1550,713.2L1544,712.6L1538,713.6Z"/>
<path class="band" stroke-width="1.5" d="M1590.7,960C1591.12,963.52 1592.37,974.88 1593.2,981.1C1594.03,987.32 1594.67,990.47 1595.7,997.3C1596.73,1004.13 1597.97,1013.82 1599.4,1022.1C1600.83,1030.38 1602.23,1039.13 1604.3,1047C1606.37,1054.87 1609.3,1063.52 1611.8,1069.3C1614.3,1075.08 1616.4,1077.55 1619.3,1081.7C1622.2,1085.85 1626.72,1091.72 1629.2,1094.2C1631.68,1096.68 1633.37,1096.2 1634.2,1096.6L1634.2,1096.6L1689.4,1096.6L1689.4,1096.6L1689.4,1088L1689.4,1088L1635.4,1088L1635.4,1088C1634.37,1086.13 1631.07,1080.95 1629.2,1076.8C1627.33,1072.65 1625.65,1068.07 1624.2,1063.1C1622.75,1058.13 1621.63,1051.77 1620.5,1047C1619.37,1042.23 1618.13,1038.23 1617.4,1034.5C1616.67,1030.77 1616.42,1028.63 1616.1,1024.6C1615.78,1020.57 1615.6,1012.68 1615.5,1010.3L1615.5,1010.3C1614.47,1009.17 1611.17,1006.3 1609.3,1003.5C1607.43,1000.7 1605.53,997.23 1604.3,993.5C1603.07,989.77 1602.72,986.68 1601.9,981.1C1601.08,975.52 1599.82,963.52 1599.4,960Z"/>
<path class="mean" stroke="#d6406c" stroke-width="3.4" stroke-linecap="butt" d="M1037.25,1100.4L1380,1100"/>
<path class="mean" stroke="#e0525a" stroke-width="3.4" stroke-linecap="butt" d="M1377.3,1099.8C1381.43,1099.48 1394.87,1098.63 1402.1,1097.9C1409.33,1097.17 1415.52,1096.43 1420.7,1095.4C1425.88,1094.37 1429.47,1093.15 1433.2,1091.7C1436.93,1090.25 1440,1088.77 1443.1,1086.7C1446.2,1084.63 1449.1,1082.2 1451.8,1079.3C1454.5,1076.4 1457.02,1072.83 1459.3,1069.3C1461.58,1065.77 1463.65,1061.82 1465.5,1058.1C1467.35,1054.38 1468.82,1050.68 1470.4,1047C1471.98,1043.32 1473.55,1039.73 1475,1036C1476.45,1032.27 1477.78,1028.98 1479.1,1024.6C1480.42,1020.22 1481.65,1014.67 1482.9,1009.7C1484.15,1004.73 1485.47,999.57 1486.6,994.8C1487.73,990.03 1488.7,985.48 1489.7,981.1C1490.7,976.72 1491.4,974.65 1492.6,968.5C1493.8,962.35 1495.35,951.97 1496.9,944.2C1498.45,936.43 1500.45,930.18 1501.9,921.9C1503.35,913.62 1504.37,903.2 1505.6,894.5C1506.83,885.8 1508.37,875.78 1509.3,869.7C1510.23,863.62 1510.35,863.95 1511.2,858C1512.05,852.05 1513.02,845.03 1514.4,834C1515.78,822.97 1517.82,805.05 1519.5,791.8C1521.18,778.55 1522.85,764.85 1524.5,754.5C1526.15,744.15 1527.75,736.73 1529.4,729.7C1531.05,722.67 1532.95,716.45 1534.4,712.3C1535.85,708.15 1537.48,706.05 1538.1,704.8L1538.1,704.8L1550.6,704.2L1550.6,704.2C1551,704.93 1551.97,705.38 1553,708.6C1554.03,711.82 1555.35,717.5 1556.8,723.5C1558.25,729.5 1560.05,737.35 1561.7,744.6C1563.35,751.85 1565.03,759.13 1566.7,767C1568.37,774.87 1570.18,783.63 1571.7,791.8C1573.22,799.97 1574.3,806.97 1575.8,816C1577.3,825.03 1579.47,838.4 1580.7,846C1581.93,853.6 1582.37,855.58 1583.2,861.6C1584.03,867.62 1584.87,874.53 1585.7,882.1C1586.53,889.67 1587.47,900.37 1588.2,907C1588.93,913.63 1589.38,915.7 1590.1,921.9C1590.82,928.1 1591.68,937.85 1592.5,944.2C1593.32,950.55 1594.27,953.85 1595,960C1595.73,966.15 1596.17,974.88 1596.9,981.1C1597.63,987.32 1598.37,991.92 1599.4,997.3C1600.43,1002.68 1601.65,1008.02 1603.1,1013.4C1604.55,1018.78 1606.45,1024.67 1608.1,1029.6C1609.75,1034.53 1611.55,1038.45 1613,1043C1614.45,1047.55 1615.55,1052.52 1616.8,1056.9C1618.05,1061.28 1619.05,1065.17 1620.5,1069.3C1621.95,1073.43 1623.63,1078.18 1625.5,1081.7C1627.37,1085.22 1630.05,1088.7 1631.7,1090.4C1633.35,1092.1 1634.78,1091.65 1635.4,1091.9L1635.4,1091.9L1689.4,1091.9"/>
<g class="ticks"><line x1="1056" y1="675" x2="1056" y2="681"/><line x1="1056" y1="1119.75" x2="1056" y2="1113.75"/><line x1="1121" y1="675" x2="1121" y2="681"/><line x1="1121" y1="1119.75" x2="1121" y2="1113.75"/><line x1="1184" y1="675" x2="1184" y2="681"/><line x1="1184" y1="1119.75" x2="1184" y2="1113.75"/><line x1="1248.25" y1="675" x2="1248.25" y2="681"/><line x1="1248.25" y1="1119.75" x2="1248.25" y2="1113.75"/><line x1="1311.75" y1="675" x2="1311.75" y2="681"/><line x1="1311.75" y1="1119.75" x2="1311.75" y2="1113.75"/><line x1="1375.5" y1="675" x2="1375.5" y2="681"/><line x1="1375.5" y1="1119.75" x2="1375.5" y2="1113.75"/><line x1="1439" y1="675" x2="1439" y2="681"/><line x1="1439" y1="1119.75" x2="1439" y2="1113.75"/><line x1="1502.5" y1="675" x2="1502.5" y2="681"/><line x1="1502.5" y1="1119.75" x2="1502.5" y2="1113.75"/><line x1="1566" y1="675" x2="1566" y2="681"/><line x1="1566" y1="1119.75" x2="1566" y2="1113.75"/><line x1="1629.75" y1="675" x2="1629.75" y2="681"/><line x1="1629.75" y1="1119.75" x2="1629.75" y2="1113.75"/><line x1="1693.5" y1="675" x2="1693.5" y2="681"/><line x1="1693.5" y1="1119.75" x2="1693.5" y2="1113.75"/><line x1="1005" y1="683" x2="1011" y2="683"/><line x1="1722.25" y1="683" x2="1716.25" y2="683"/><line x1="1005" y1="742.7" x2="1011" y2="742.7"/><line x1="1722.25" y1="742.7" x2="1716.25" y2="742.7"/><line x1="1005" y1="802" x2="1011" y2="802"/><line x1="1722.25" y1="802" x2="1716.25" y2="802"/><line x1="1005" y1="861.75" x2="1011" y2="861.75"/><line x1="1722.25" y1="861.75" x2="1716.25" y2="861.75"/><line x1="1005" y1="921" x2="1011" y2="921"/><line x1="1722.25" y1="921" x2="1716.25" y2="921"/><line x1="1005" y1="981.25" x2="1011" y2="981.25"/><line x1="1722.25" y1="981.25" x2="1716.25" y2="981.25"/><line x1="1005" y1="1040.5" x2="1011" y2="1040.5"/><line x1="1722.25" y1="1040.5" x2="1716.25" y2="1040.5"/><line x1="1005" y1="1100.25" x2="1011" y2="1100.25"/><line x1="1722.25" y1="1100.25" x2="1716.25" y2="1100.25"/></g>
<rect class="frame" x="1005" y="675" width="717.25" height="444.75"/>
<text class="tk" transform="translate(1059,1146.3) scale(0.925,1)" text-anchor="middle">-60</text><text class="tk" transform="translate(1120,1146.3) scale(0.925,1)" text-anchor="middle">-50</text><text class="tk" transform="translate(1181.6,1146.3) scale(0.925,1)" text-anchor="middle">-40</text><text class="tk" transform="translate(1243,1146.3) scale(0.925,1)" text-anchor="middle">-30</text><text class="tk" transform="translate(1310.4,1146.3) scale(0.925,1)" text-anchor="middle">-20</text><text class="tk" transform="translate(1371,1146.3) scale(0.925,1)" text-anchor="middle">-10</text><text class="tk" transform="translate(1442.5,1146.3) scale(0.925,1)" text-anchor="middle">0</text><text class="tk" transform="translate(1502.4,1146.3) scale(0.925,1)" text-anchor="middle">10</text><text class="tk" transform="translate(1568.75,1146.3) scale(0.925,1)" text-anchor="middle">20</text><text class="tk" transform="translate(1635.25,1146.3) scale(0.925,1)" text-anchor="middle">30</text><text class="tk" transform="translate(1695.25,1146.3) scale(0.925,1)" text-anchor="middle">40</text>
<text class="tk" transform="translate(999.2,699.8) scale(0.925,1)" text-anchor="end">0.7</text><text class="tk" transform="translate(999.2,756.8) scale(0.925,1)" text-anchor="end">0.6</text><text class="tk" transform="translate(999.2,815) scale(0.925,1)" text-anchor="end">0.5</text><text class="tk" transform="translate(999.2,872.2) scale(0.925,1)" text-anchor="end">0.4</text><text class="tk" transform="translate(999.2,929.6) scale(0.925,1)" text-anchor="end">0.3</text><text class="tk" transform="translate(999.2,986.6) scale(0.925,1)" text-anchor="end">0.2</text><text class="tk" transform="translate(999.2,1044.5) scale(0.925,1)" text-anchor="end">0.1</text><text class="tk" transform="translate(999.2,1102) scale(0.925,1)" text-anchor="end">0</text>
<text class="ttl" y="1189.7" font-size="32.5"><tspan x="1071.5" textLength="469" lengthAdjust="spacingAndGlyphs">bio_1 Mean annual temperature</tspan> <tspan x="1558.5" y="1189.5" font-size="32">(</tspan><tspan class="deg" x="1565" y="1189.3" font-size="31.5">℃</tspan><tspan x="1604.5" y="1189.5" font-size="32">)</tspan></text>
<text class="ttl" font-size="28" transform="translate(945.5,973) rotate(-90)" textLength="192" lengthAdjust="spacingAndGlyphs">Logistic output</text>
<text class="let" transform="translate(926.6,668.4) scale(0.9,1)" font-size="60">D</text>
</g>
</svg>
</body>
</html>
